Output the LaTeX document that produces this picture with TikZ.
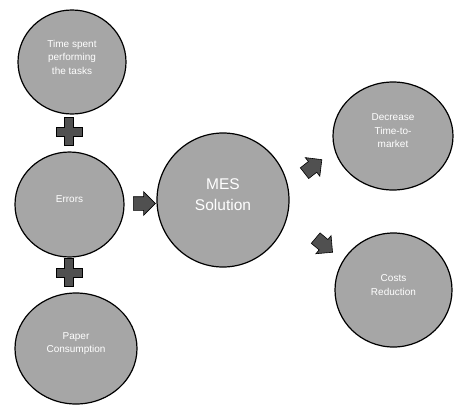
\documentclass[tikz,border=0pt]{standalone}
\usepackage{fontspec}
\setmainfont{Liberation Sans}
\usetikzlibrary{shapes.geometric, shapes.arrows}

\definecolor{bubblegray}{HTML}{A6A6A6}
\definecolor{arrowgray}{HTML}{505050}

\begin{document}
\begin{tikzpicture}[
    x=1pt, y=-1pt,
    bubble/.style={ellipse, draw, line width=1.2pt, fill=bubblegray, inner sep=0pt},
    bubbletext/.style={text=white, align=center, yshift=5pt, font=\fontsize{10}{13.5}\selectfont},
    bigtext/.style={bubbletext, font=\fontsize{15.5}{21}\selectfont},
    blockarrow/.style={single arrow, draw, line width=0.6pt, fill=arrowgray, inner sep=0pt, text height=6.5pt, text depth=6.5pt, minimum height=22pt, single arrow head extend=5pt, single arrow head indent=0pt},
    plussign/.pic={\draw[line width=0.6pt, fill=arrowgray] (-4.5,-14) -- ++(9,0) -- ++(0,9.5) -- ++(8.5,0) -- ++(0,9) -- ++(-8.5,0) -- ++(0,9.5) -- ++(-9,0) -- ++(0,-9.5) -- ++(-8.5,0) -- ++(0,-9) -- ++(8.5,0) -- cycle;}
]
    \useasboundingbox (0,0) rectangle (454,405);

    \node[bubble, minimum width=108pt, minimum height=104pt, label={[bubbletext]center:Time spent\\performing\\the tasks}] (time) at (72,62) {};
    \node[bubble, minimum width=109pt, minimum height=105pt, label={[bubbletext]center:Errors}] (errors) at (69.5,204.5) {};
    \node[bubble, minimum width=122pt, minimum height=111pt, label={[bubbletext]center:Paper\\Consumption}] (paper) at (76,348.5) {};
    \node[bubble, minimum width=132pt, minimum height=134pt, label={[bigtext]center:MES\\Solution}] (mes) at (223,200) {};
    \node[bubble, minimum width=120pt, minimum height=108pt, label={[bubbletext]center:Decrease\\Time-to-\\market}] (decr) at (393,136) {};
    \node[bubble, minimum width=117pt, minimum height=114pt, label={[bubbletext]center:Costs\\Reduction}] (costs) at (393.5,290) {};

    \pic at (69,131.5) {plussign};
    \pic at (69,272.5) {plussign};

    \node[blockarrow] (toMes) at (141,203.5) {};
    \node[blockarrow, rotate=38] (toDecr) at (310.5,168.5) {};
    \node[blockarrow, rotate=-40] (toCosts) at (321.5,243) {};
\end{tikzpicture}
\end{document}
